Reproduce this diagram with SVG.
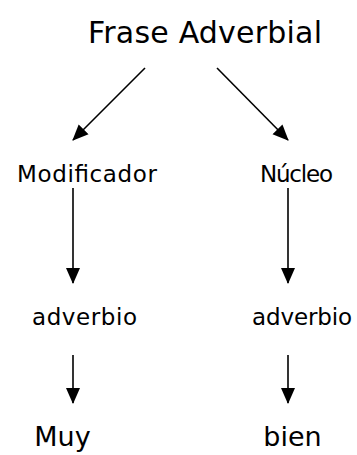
<svg xmlns="http://www.w3.org/2000/svg" width="357" height="455" viewBox="0 0 357 455">
<style>
text{font-family:"DejaVu Sans","Liberation Sans",sans-serif;fill:#000}
.big{font-size:30px}
.mid{font-size:23px}
.leaf{font-size:27px;text-anchor:middle}
.c line{stroke:#000;stroke-width:1.6}
</style>
<defs>
<marker id="ah" markerWidth="16" markerHeight="16" refX="15" refY="8" orient="auto" markerUnits="userSpaceOnUse" viewBox="0 0 16 16">
<path d="M0,1 L16,8 L0,15 Z" fill="#000"/>
</marker>
</defs>
<rect width="357" height="455" fill="#fff"/>
<g id="frase"><text class="big" x="88" y="43" textLength="234">Frase Adverbial</text></g>
<g id="modificador"><text class="mid" x="17" y="182" textLength="140">Modificador</text></g>
<g id="nucleo"><text class="mid" x="260" y="182" textLength="73">Núcleo</text></g>
<g id="adv1"><text class="mid" x="32" y="325" textLength="105">adverbio</text></g>
<g id="adv2"><text class="mid" x="252" y="325" textLength="100">adverbio</text></g>
<g id="muy"><text class="leaf" x="62.5" y="446">Muy</text></g>
<g id="bien"><text class="leaf" x="292.5" y="446">bien</text></g>
<g class="c" id="connectors">
<line x1="145" y1="68" x2="73" y2="140" marker-end="url(#ah)"/>
<line x1="217" y1="68" x2="288" y2="140" marker-end="url(#ah)"/>
<line x1="73" y1="188" x2="73" y2="283" marker-end="url(#ah)"/>
<line x1="288" y1="188" x2="288" y2="283" marker-end="url(#ah)"/>
<line x1="73" y1="355" x2="73" y2="403" marker-end="url(#ah)"/>
<line x1="288" y1="355" x2="288" y2="403" marker-end="url(#ah)"/>
</g>
</svg>
